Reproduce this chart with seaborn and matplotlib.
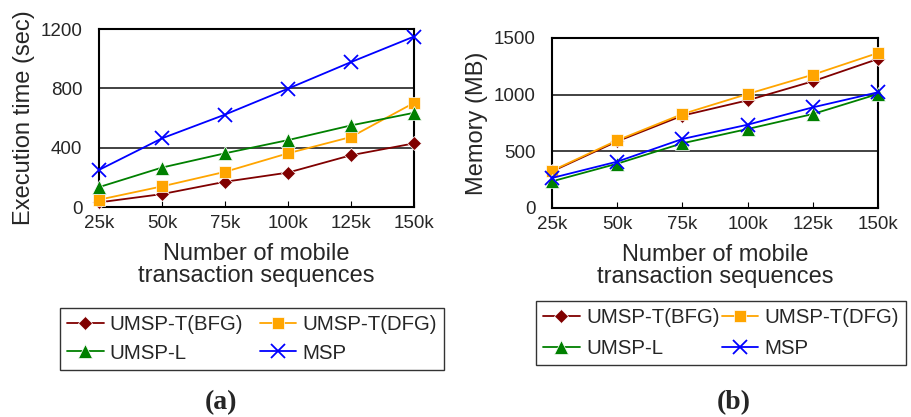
import matplotlib
matplotlib.use("Agg")
import matplotlib.pyplot as plt
import seaborn as sns
import pandas as pd

x_vals = [25, 50, 75, 100, 125, 150]
x_labels = ["25k", "50k", "75k", "100k", "125k", "150k"]
series = ["UMSP-T(BFG)", "UMSP-T(DFG)", "UMSP-L", "MSP"]

time_bfg = [31, 87, 170, 232, 349, 429]
time_dfg = [49, 139, 237, 362, 472, 702]
time_l = [134, 266, 362, 451, 550, 635]
time_msp = [250, 463, 623, 798, 977, 1149]

mem_bfg = [323, 588, 815, 950, 1118, 1315]
mem_dfg = [329, 597, 829, 1006, 1176, 1368]
mem_l = [235, 391, 571, 697, 829, 1006]
mem_msp = [265, 409, 609, 735, 888, 1021]

colors = {"UMSP-T(BFG)": "#800000", "UMSP-T(DFG)": "#FFA500",
          "UMSP-L": "#008000", "MSP": "#0000FF"}
markers = {"UMSP-T(BFG)": "D", "UMSP-T(DFG)": "s", "UMSP-L": "^", "MSP": "x"}
msizes = {"UMSP-T(BFG)": 7, "UMSP-T(DFG)": 9, "UMSP-L": 10, "MSP": 10}

def long_df(vals):
    rows = []
    for name, v in zip(series, vals):
        for xx, yy in zip(x_vals, v):
            rows.append({"x": xx, "y": yy, "series": name})
    return pd.DataFrame(rows)

df_time = long_df([time_bfg, time_dfg, time_l, time_msp])
df_mem = long_df([mem_bfg, mem_dfg, mem_l, mem_msp])

sns.set_style("white")
plt.rcParams["font.family"] = ["Liberation Sans", "DejaVu Sans"]

fig = plt.figure(figsize=(9.12, 4.17), dpi=100)
W, H = 912, 417
def add_ax(l, t, r, b):
    return fig.add_axes([l / W, 1 - b / H, (r - l) / W, (b - t) / H])

ax1 = add_ax(99, 29, 414, 207)
ax2 = add_ax(552, 38, 878, 208)

def draw(ax, df, yticks, ylim, ylabel, leg_center, colsp, lsp, label, label_x):
    for name in series:
        sub = df[df["series"] == name]
        sns.lineplot(data=sub, x="x", y="y", ax=ax, color=colors[name],
                     marker=markers[name], markersize=msizes[name],
                     markeredgewidth=1.3 if name == "MSP" else 0.5,
                     markeredgecolor=colors[name] if name == "MSP" else "white",
                     linewidth=1.3, label=name, clip_on=False, zorder=3)
    ax.set_xlim(25, 150)
    ax.set_ylim(*ylim)
    ax.set_xticks(x_vals)
    ax.set_xticklabels(x_labels)
    ax.set_yticks(yticks)
    ax.set_yticklabels([str(t) for t in yticks])
    for t in yticks[1:-1]:
        ax.axhline(t, color="#333333", linewidth=1.3, zorder=1)
    for s in ax.spines.values():
        s.set_color("black")
        s.set_linewidth(1.5)
    ax.tick_params(axis="both", labelsize=13.5, length=4, direction="in",
                   color="black")
    ax.tick_params(axis="x", bottom=True, top=False, pad=6)
    ax.tick_params(axis="y", left=False, pad=12)
    ax.set_xlabel("Number of mobile\ntransaction sequences", fontsize=17,
                  linespacing=1.0, labelpad=8)
    ax.set_ylabel(ylabel, fontsize=17, labelpad=4)
    h, l = ax.get_legend_handles_labels()
    if ax.legend_:
        ax.legend_.remove()
    order = [0, 2, 1, 3]
    h = [h[i] for i in order]
    l = [l[i] for i in order]
    cx, cy = leg_center
    leg = fig.legend(h, l, loc="center",
                     bbox_to_anchor=(cx / W, 1 - cy / H),
                     ncol=2, fontsize=14.7, frameon=True, fancybox=False,
                     edgecolor="black", borderpad=0.35, handlelength=1.8,
                     columnspacing=colsp, handletextpad=0.3, labelspacing=lsp)
    leg.get_frame().set_linewidth(1.0)
    fig.text(label_x / W, 1 - 403 / H, label, ha="center", va="center",
             fontsize=20, fontweight="bold", family="Liberation Serif")

draw(ax1, df_time, [0, 400, 800, 1200], (0, 1200), "Execution time (sec)",
     (252, 339), 0.8, 0.45, "(a)", 221)
draw(ax2, df_mem, [0, 500, 1000, 1500], (0, 1500), "Memory (MB)",
     (721, 333), 0.1, 0.6, "(b)", 734)

fig.savefig("out.png", dpi=100)
